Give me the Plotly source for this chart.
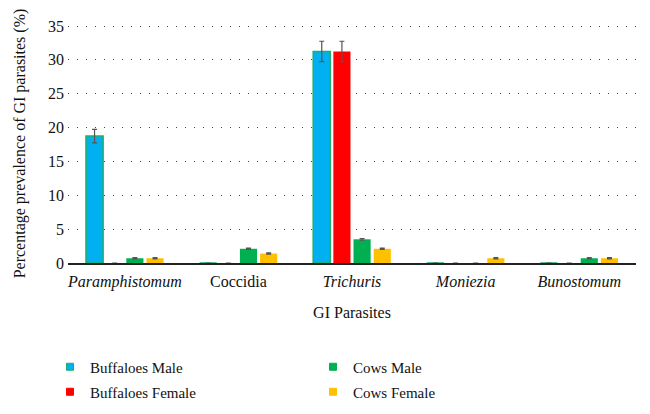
import plotly.graph_objects as go

categories = ["Paramphistomum", "Coccidia", "Trichuris", "Moniezia", "Bunostomum"]
tick_labels = ["<i>Paramphistomum</i>", "Coccidia", "<i>Trichuris</i>", "<i>Moniezia</i>", "<i>Bunostomum</i>"]

buffaloes_male = [18.75, 0, 31.25, 0, 0]
buffaloes_male_err = [1.0, 0, 1.5, 0, 0]
buffaloes_female = [0, 0, 31.25, 0, 0]
buffaloes_female_err = [0, 0, 1.5, 0, 0]
cows_male = [0.7, 2.1, 3.5, 0, 0.7]
cows_male_err = [0.08, 0.1, 0.12, 0, 0.08]
cows_female = [0.7, 1.4, 2.1, 0.7, 0.7]
cows_female_err = [0.08, 0.1, 0.1, 0.08, 0.08]

series = [
    ("Buffaloes Male", buffaloes_male, buffaloes_male_err, "#00b0f0", "#1fae6a", 1.5, "legend"),
    ("Buffaloes Female", buffaloes_female, buffaloes_female_err, "#ff0000", "#ff0000", 0, "legend2"),
    ("Cows Male", cows_male, cows_male_err, "#00b050", "#00b050", 0, "legend"),
    ("Cows Female", cows_female, cows_female_err, "#ffc000", "#ffc000", 0, "legend2"),
]
legend_order = ["Buffaloes Male", "Cows Male", "Buffaloes Female", "Cows Female"]

font_family = "Liberation Serif"

# page body has an 8px margin: figure sized so it fits the 650x414 window
W, H = 642, 406

fig = go.Figure()
for name, vals, errs, color, line, lw, lg in series:
    fig.add_trace(go.Bar(
        name=name, x=categories, y=vals,
        marker=dict(color=color, line=dict(color=line, width=lw)),
        error_y=dict(type="data", array=errs, visible=True, color="#555555", thickness=1.2, width=2.5),
        showlegend=False,
    ))

# legend entries (small square markers, like the reference)
for rank, lname in enumerate(legend_order):
    name, vals, errs, color, line, lw, lg = [s for s in series if s[0] == lname][0]
    fig.add_trace(go.Scatter(
        name=name, x=[None], y=[None], mode="markers",
        marker=dict(symbol="square", size=7, color=color, line=dict(color=line, width=1)),
        legend=lg, legendrank=rank, showlegend=True,
    ))

legend_common = dict(orientation="h", xanchor="left", yanchor="middle",
                     xref="container", yref="container",
                     entrywidth=218, entrywidthmode="pixels",
                     font=dict(size=15, family=font_family, color="#111111"),
                     bgcolor="rgba(0,0,0,0)", itemwidth=30)

fig.update_layout(
    width=W, height=H,
    margin=dict(l=60, r=14, t=16, b=151, autoexpand=False),
    paper_bgcolor="white", plot_bgcolor="white",
    font=dict(family=font_family, size=15, color="#111111"),
    barmode="group", bargap=0.29, bargroupgap=0.15,
    showlegend=True,
    legend=dict(x=42 / W, y=1 - 359 / H, **legend_common),
    legend2=dict(x=42 / W, y=1 - 384 / H, **legend_common),
    xaxis=dict(
        tickmode="array", tickvals=categories, ticktext=tick_labels,
        showline=True, linecolor="#222222", linewidth=1.5,
        ticks="", showgrid=False, automargin=False, ticklabelstandoff=3,
        title=dict(text="GI Parasites", font=dict(size=16), standoff=17),
        tickfont=dict(size=16),
    ),
    yaxis=dict(
        range=[0, 35.3], tickvals=[0, 5, 10, 15, 20, 25, 30, 35],
        showgrid=True, gridcolor="#444444", griddash="1px,8px", gridwidth=1,
        zeroline=False, showline=False, ticks="", automargin=False, ticklabelstandoff=3,
        title=dict(text="Percentage prevalence of GI parasites (%)", font=dict(size=16), standoff=18),
        tickfont=dict(size=16),
    ),
)

fig.write_html("out.html")
